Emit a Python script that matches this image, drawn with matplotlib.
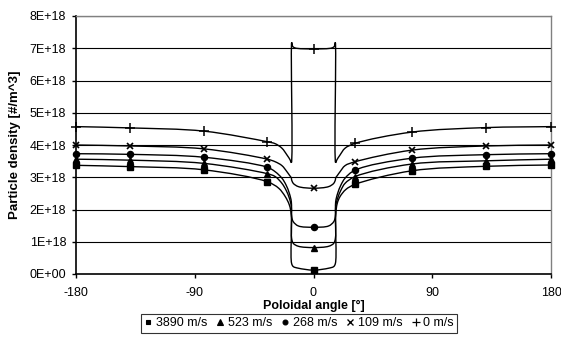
import numpy as np
import matplotlib
matplotlib.use('Agg')
import matplotlib.pyplot as plt
from matplotlib.path import Path
from matplotlib.patches import PathPatch
from matplotlib.lines import Line2D

plt.rcParams['font.family'] = ['Liberation Sans', 'DejaVu Sans']

# ---------------- data (densities in units of 1E+18 #/m^3) ----------------
MARK_X = [-180, -139, -83, -35, 0, 31.5, 74.5, 131, 180]
SERIES = ['3890 m/s', '523 m/s', '268 m/s', '109 m/s', '0 m/s']

MARK_Y_3890 = [3.37, 3.33, 3.23, 2.86, 0.12, 2.78, 3.20, 3.34, 3.38]
MARK_Y_523 = [3.56, 3.53, 3.43, 3.11, 0.82, 3.02, 3.41, 3.51, 3.56]
MARK_Y_268 = [3.73, 3.71, 3.62, 3.31, 1.45, 3.22, 3.59, 3.70, 3.73]
MARK_Y_109 = [4.00, 3.97, 3.88, 3.56, 2.66, 3.48, 3.84, 3.97, 4.00]
MARK_Y_0 = [4.57, 4.53, 4.43, 4.10, 6.98, 4.05, 4.40, 4.54, 4.57]

# unmarked points read along the curves near the step at about +-16.5 deg
STEP_X_3890 = [-26.4, -21.4, -18.3, -16.8, -16.6, -15.3, -11.5,
               11.5, 15.3, 16.6, 16.8, 18.0, 20.1, 24.5]
STEP_Y_3890 = [2.66, 2.40, 2.14, 1.83, 0.33, 0.23, 0.18,
               0.18, 0.23, 0.33, 1.83, 2.19, 2.40, 2.62]

STEP_X_523 = [-29.0, -23.9, -20.8, -18.3, -16.8, -16.6, -15.3, -11.5,
              11.5, 15.3, 16.6, 16.8, 18.3, 20.8, 23.9]
STEP_Y_523 = [3.02, 2.81, 2.60, 2.35, 2.09, 1.11, 0.95, 0.86,
              0.86, 0.95, 1.11, 2.09, 2.35, 2.60, 2.81]

STEP_X_268 = [-29.0, -23.9, -20.8, -18.3, -16.8, -16.6, -15.3, -11.5,
              11.5, 15.3, 16.6, 16.8, 18.3, 20.8, 23.9]
STEP_Y_268 = [3.17, 2.97, 2.76, 2.50, 2.24, 1.78, 1.62, 1.49,
              1.49, 1.62, 1.78, 2.24, 2.50, 2.76, 2.97]

STEP_X_109 = [-29.0, -23.9, -20.1, -18.0, -16.8, -16.6, -15.3, -11.5,
              11.5, 15.3, 16.6, 16.8, 18.0, 20.1, 23.9]
STEP_Y_109 = [3.48, 3.36, 3.17, 3.05, 2.98, 2.92, 2.81, 2.71,
              2.71, 2.81, 2.92, 2.98, 3.05, 3.17, 3.36]

STEP_X_0 = [-29.0, -23.9, -20.1, -17.6, -16.8, -16.5, -15.8, -14.0,
            14.0, 15.8, 16.5, 16.8, 17.6, 20.1, 23.9]
STEP_Y_0 = [4.04, 3.90, 3.69, 3.53, 3.45, 7.18, 7.06, 7.01,
            7.01, 7.06, 7.18, 3.45, 3.53, 3.69, 3.90]

X_TICKS = [-180, -90, 0, 90, 180]
Y_TICKS = [0, 1, 2, 3, 4, 5, 6, 7, 8]
Y_TICK_LABELS = ['0E+00', '1E+18', '2E+18', '3E+18', '4E+18',
                 '5E+18', '6E+18', '7E+18', '8E+18']

MARK_Y = [MARK_Y_3890, MARK_Y_523, MARK_Y_268, MARK_Y_109, MARK_Y_0]
STEP_X = [STEP_X_3890, STEP_X_523, STEP_X_268, STEP_X_109, STEP_X_0]
STEP_Y = [STEP_Y_3890, STEP_Y_523, STEP_Y_268, STEP_Y_109, STEP_Y_0]
MARKERS = [('s', 4.0, 1.0), ('^', 4.6, 1.0), ('o', 4.4, 1.0), ('x', 5.0, 1.2), ('+', 6.5, 1.1)]

# ---------------- figure ----------------
W, H = 561, 338
fig = plt.figure(figsize=(W / 100, H / 100), dpi=100)
L, R, T, B = 76, 551, 16, 274
ax = fig.add_axes([L / W, 1 - B / H, (R - L) / W, (B - T) / H])
ax.set_xlim(-180, 180)
ax.set_ylim(0, 8)

SX = (R - L) / 360.0
SY = (B - T) / 8.0


def smooth_path(xs, ys):
    """Smoothed (centripetal Catmull-Rom as Bezier) path through the points."""
    P = np.column_stack([np.asarray(xs, float) * SX, np.asarray(ys, float) * SY])
    n = len(P)
    verts = [P[0]]
    codes = [Path.MOVETO]
    for i in range(n - 1):
        p0 = P[i - 1] if i > 0 else P[i]
        p1, p2 = P[i], P[i + 1]
        p3 = P[i + 2] if i + 2 < n else P[i + 1]
        d1 = np.linalg.norm(p1 - p0) ** 0.5
        d2 = np.linalg.norm(p2 - p1) ** 0.5
        d3 = np.linalg.norm(p3 - p2) ** 0.5
        if d1 < 1e-9:
            b1 = p1 + (p2 - p1) / 3
        else:
            b1 = (d1 ** 2 * p2 - d2 ** 2 * p0 + (2 * d1 ** 2 + 3 * d1 * d2 + d2 ** 2) * p1) / (3 * d1 * (d1 + d2))
        if d3 < 1e-9:
            b2 = p2 - (p2 - p1) / 3
        else:
            b2 = (d3 ** 2 * p1 + (2 * d3 ** 2 + 3 * d3 * d2 + d2 ** 2) * p2 - d2 ** 2 * p3) / (3 * d3 * (d3 + d2))
        verts += [b1, b2, p2]
        codes += [Path.CURVE4] * 3
    V = np.array(verts)
    V[:, 0] /= SX
    V[:, 1] /= SY
    return Path(V, codes)


# grid
for yv in Y_TICKS[1:]:
    ax.axhline(yv, color='black', lw=0.8, zorder=1)

handles = []
for name, my, sx_, sy_, (mk, ms, mew) in zip(SERIES, MARK_Y, STEP_X, STEP_Y, MARKERS):
    xs = list(MARK_X) + list(sx_)
    ys = list(my) + list(sy_)
    order = np.argsort(xs, kind='stable')
    xs = [xs[k] for k in order]
    ys = [ys[k] for k in order]
    ax.add_patch(PathPatch(smooth_path(xs, ys), fill=False, edgecolor='black', lw=1.0, zorder=3))
    ax.plot(MARK_X, my, linestyle='none', marker=mk, markersize=ms, mew=mew,
            color='black', zorder=4, clip_on=False)
    handles.append(Line2D([], [], linestyle='none', marker=mk, markersize=ms * 0.8,
                          mew=mew * 0.8, color='black', label=name))

# axes styling
for s in ['top', 'right']:
    ax.spines[s].set_color('#808080')
    ax.spines[s].set_linewidth(1.0)
for s in ['left', 'bottom']:
    ax.spines[s].set_color('black')
    ax.spines[s].set_linewidth(1.2)

ax.set_xticks(X_TICKS)
ax.set_xticklabels([str(v) for v in X_TICKS])
ax.set_yticks(Y_TICKS)
ax.set_yticklabels(Y_TICK_LABELS)
ax.tick_params(axis='both', direction='out', length=3, width=1, color='black',
               labelsize=9, labelcolor='black')
ax.tick_params(axis='x', pad=6)
ax.tick_params(axis='y', pad=4)

ax.set_xlabel('Poloidal angle [°]', fontsize=9, fontweight='bold')
ax.xaxis.set_label_coords(0.5, -(306 - B) / (B - T))
ax.xaxis.label.set_va('center')
ax.set_ylabel('Particle density [#/m^3]', fontsize=9.5, fontweight='bold')
ax.yaxis.set_label_coords(-(76 - 15) / (R - L), 0.5)
ax.yaxis.label.set_va('center')

leg = fig.legend(handles=handles, loc='center', ncol=5,
                 bbox_to_anchor=(299 / W, 1 - 323.5 / H), fontsize=9,
                 frameon=True, fancybox=False, shadow=False,
                 handlelength=0.6, handletextpad=0.3, columnspacing=0.75,
                 borderpad=0.3, borderaxespad=0)
leg.get_frame().set_edgecolor('black')
leg.get_frame().set_linewidth(0.8)

fig.savefig('out.png', dpi=100)
